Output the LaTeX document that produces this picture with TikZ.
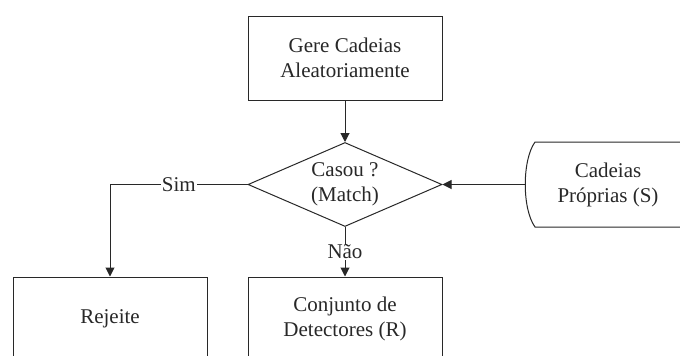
\documentclass[tikz,border=0pt]{standalone}
\usepackage{fontspec}
\setmainfont{Liberation Serif}
\usetikzlibrary{shapes.geometric,arrows.meta}
\definecolor{ink}{RGB}{40,40,40}
\begin{document}
\begin{tikzpicture}[x=1pt,y=1pt,
  every node/.style={text=ink, font=\fontsize{21}{25}\selectfont, align=center},
  boxnode/.style={draw=ink, line width=1pt, rectangle, minimum width=194pt, minimum height=84pt, inner sep=0pt},
  decision/.style={draw=ink, line width=1pt, diamond, minimum width=194pt, minimum height=84pt, aspect=2.31, inner sep=0pt},
  conn/.style={draw=ink, line width=1pt, -{Triangle[length=9pt,width=9pt]}},
  lbl/.style={fill=white, inner sep=1pt}]
\useasboundingbox (0,0) rectangle (680,-356);
\clip (0,0) rectangle (680,-356);
\fill[white] (0,0) rectangle (680,-356);
\node[boxnode] (gen) at (345,-58) {Gere Cadeias\\Aleatoriamente};
\node[decision] (dec) at (345,-184.5) {Casou ?\\(Match)};
\node[boxnode] (rej) at (110,-319) {Rejeite};
\node[boxnode] (conj) at (345,-319) {Conjunto de\\Detectores (R)};
% Cadeias Proprias shape
\draw[ink, line width=1pt] (720,-142) -- (535,-142) .. controls (522,-160) and (522,-209) .. (535,-227) -- (720,-227);
\coordinate (cadL) at (525.5,-184.5);
\node (cad) at (608,-185) {Cadeias\\Próprias (S)};
\draw[conn] (gen.south) -- (dec.north);
\draw[conn] (cadL) -- (dec.east);
\draw[conn] (dec.west) -| node[lbl, pos=0.25] (sim) {Sim} (rej.north);
\draw[conn] (dec.south) -- node[lbl, midway] (nao) {Não} (conj.north);
\end{tikzpicture}
\end{document}
